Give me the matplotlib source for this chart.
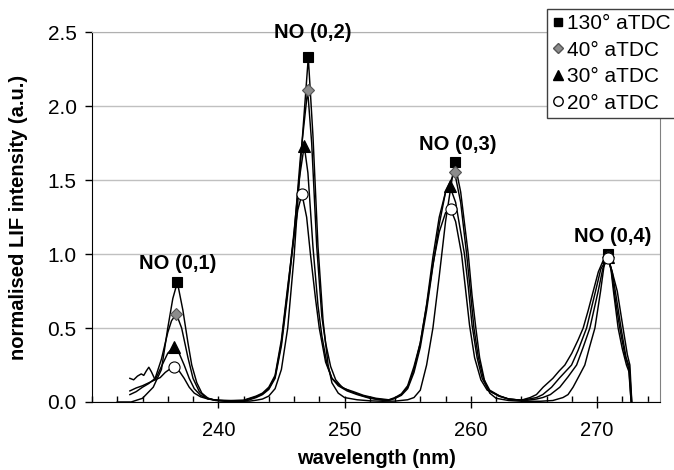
import numpy as np
import matplotlib
matplotlib.use('Agg')
import matplotlib.pyplot as plt
from matplotlib.lines import Line2D
from matplotlib.ticker import MultipleLocator, FixedLocator

plt.rcParams['font.family'] = ['Liberation Sans', 'DejaVu Sans']

# LIF spectra (wavelength nm, normalised intensity)
wl_130 = [232.0, 233.1, 234.0, 234.85, 235.5, 236.0, 236.4, 236.76, 237.2, 237.6, 237.9, 238.3, 238.7, 239.2, 239.8, 240.5,
          241.5, 242.5,
          243.0, 243.5, 244.0, 244.5, 245.0, 245.5, 246.0, 246.5, 247.13, 247.5, 247.9, 248.3, 248.7, 249.0, 249.5, 250.0, 251.0, 252.0, 253.0,
          254.0, 255.0, 255.5, 256.0, 256.5, 257.0, 257.5, 258.0, 258.72, 259.2, 259.8, 260.1, 260.4, 260.7, 261.1, 261.5, 262.0, 263.0, 264.0,
          265.5, 266.5, 267.3, 267.7, 268.1, 268.6, 269.03, 269.4, 269.83, 270.28, 270.55, 270.83, 271.1, 271.3, 271.67, 272.0, 272.33, 272.55, 272.7]
int_130 = [0.0, 0.0, 0.025, 0.10, 0.22, 0.50, 0.70, 0.81, 0.62, 0.40, 0.25, 0.13, 0.06, 0.025, 0.01, 0.005,
           0.004, 0.006,
           0.012, 0.02, 0.04, 0.09, 0.22, 0.50, 0.98, 1.60, 2.331, 1.80, 1.05, 0.55, 0.25, 0.13, 0.06, 0.03, 0.015, 0.008, 0.005,
           0.006, 0.015, 0.03, 0.08, 0.25, 0.50, 0.85, 1.22, 1.623, 1.42, 1.0, 0.72, 0.50, 0.30, 0.14, 0.06, 0.025, 0.01, 0.005,
           0.005, 0.01, 0.03, 0.05, 0.10, 0.18, 0.25, 0.37, 0.50, 0.75, 0.92, 1.002, 0.90, 0.75, 0.50, 0.36, 0.25, 0.20, 0.0]

wl_40 = [233.0, 233.5, 234.0, 234.5, 235.0, 235.5, 236.0, 236.3, 236.68, 237.1, 237.6, 238.0, 238.5, 239.0, 239.6, 240.5,
         241.5, 242.3,
         243.0, 243.5, 244.0, 244.5, 245.0, 245.5, 246.0, 246.5, 247.08, 247.4, 247.8, 248.2, 248.5, 248.9, 249.3, 249.8, 250.5, 251.5, 252.5, 253.5,
         254.0, 254.5, 255.0, 255.5, 256.0, 256.5, 257.0, 257.5, 258.0, 258.72, 259.2, 259.67, 260.0, 260.25, 260.6, 261.0, 261.5, 262.3, 263.0, 264.0,
         264.5, 265.2, 265.7, 266.3, 267.05, 267.7, 268.38, 268.9, 269.43, 270.09, 270.45, 270.85, 271.15, 271.4, 271.8, 272.2, 272.5, 272.7]
int_40 = [0.05, 0.07, 0.10, 0.125, 0.16, 0.29, 0.47, 0.55, 0.596, 0.50, 0.30, 0.16, 0.07, 0.03, 0.015, 0.008,
          0.006, 0.01,
          0.03, 0.05, 0.085, 0.16, 0.38, 0.73, 1.13, 1.65, 2.108, 1.75, 1.05, 0.58, 0.40, 0.24, 0.15, 0.10, 0.07, 0.04, 0.02, 0.012,
          0.025, 0.045, 0.09, 0.20, 0.37, 0.62, 0.92, 1.20, 1.42, 1.553, 1.35, 1.0, 0.72, 0.50, 0.30, 0.16, 0.08, 0.04, 0.02, 0.012,
          0.012, 0.02, 0.03, 0.05, 0.10, 0.17, 0.25, 0.37, 0.50, 0.75, 0.90, 0.98, 0.88, 0.72, 0.50, 0.32, 0.23, 0.0]

wl_30 = [233.0, 233.5, 234.0, 234.5, 235.0, 235.5, 236.0, 236.5, 236.9, 237.3, 237.7, 238.1, 238.6, 239.2, 240.0, 241.0,
         242.0,
         243.0, 243.5, 244.0, 244.5, 245.0, 245.5, 246.0, 246.4, 246.81, 247.1, 247.5, 247.9, 248.2, 248.6, 249.0, 249.5, 250.2, 251.0, 252.0, 253.0,
         253.5, 254.0, 254.5, 255.0, 255.5, 256.0, 256.5, 257.0, 257.5, 258.0, 258.35, 258.8, 259.2, 259.5, 259.8, 260.1, 260.5, 260.9, 261.4, 262.2, 263.0, 264.0,
         264.6, 265.2, 265.7, 266.4, 267.0, 267.98, 268.5, 269.17, 269.88, 270.3, 270.85, 271.2, 271.5, 271.9, 272.3, 272.55, 272.75]
int_30 = [0.075, 0.095, 0.11, 0.13, 0.15, 0.24, 0.33, 0.374, 0.33, 0.25, 0.16, 0.09, 0.045, 0.02, 0.01, 0.008,
          0.01,
          0.035, 0.055, 0.09, 0.17, 0.40, 0.76, 1.15, 1.50, 1.733, 1.55, 1.05, 0.65, 0.45, 0.26, 0.16, 0.11, 0.075, 0.05, 0.025, 0.012,
          0.012, 0.025, 0.05, 0.10, 0.22, 0.40, 0.66, 0.98, 1.25, 1.42, 1.458, 1.35, 1.15, 1.0, 0.78, 0.52, 0.30, 0.16, 0.08, 0.04, 0.02, 0.012,
          0.02, 0.03, 0.05, 0.10, 0.16, 0.25, 0.35, 0.50, 0.75, 0.90, 0.98, 0.88, 0.72, 0.50, 0.30, 0.24, 0.0]

wl_20 = [233.0, 233.3, 233.6, 233.9, 234.1, 234.3, 234.5, 234.7, 235.0, 235.4, 235.8, 236.2, 236.52, 236.9, 237.3, 237.7, 238.1, 238.6, 239.2, 240.0, 241.0,
         242.0,
         243.0, 243.5, 244.0, 244.5, 245.0, 245.5, 246.0, 246.3, 246.63, 247.0, 247.3, 247.7, 248.0, 248.5, 249.0, 249.5, 250.0, 250.7, 251.5, 252.5, 253.5,
         254.0, 254.5, 255.0, 255.5, 256.0, 256.5, 257.0, 257.5, 258.0, 258.4, 258.8, 259.27, 259.6, 259.9, 260.3, 260.8, 261.3, 262.3, 263.0, 264.0,
         264.3, 264.7, 265.2, 265.73, 266.5, 267.0, 267.45, 268.0, 268.5, 268.9, 269.3, 269.7, 270.1, 270.5, 270.88, 271.2, 271.6, 272.06, 272.4, 272.6, 272.75]
int_20 = [0.16, 0.15, 0.175, 0.19, 0.18, 0.21, 0.235, 0.205, 0.15, 0.165, 0.20, 0.225, 0.239, 0.21, 0.16, 0.10, 0.06, 0.035, 0.02, 0.012, 0.01,
          0.012,
          0.04, 0.06, 0.10, 0.18, 0.42, 0.78, 1.12, 1.30, 1.406, 1.25, 1.00, 0.70, 0.50, 0.27, 0.16, 0.12, 0.09, 0.07, 0.045, 0.025, 0.015,
          0.03, 0.055, 0.11, 0.24, 0.40, 0.65, 0.93, 1.15, 1.28, 1.307, 1.22, 1.00, 0.75, 0.52, 0.30, 0.15, 0.08, 0.04, 0.02, 0.012,
          0.02, 0.03, 0.05, 0.10, 0.16, 0.21, 0.25, 0.33, 0.42, 0.50, 0.62, 0.75, 0.88, 0.96, 0.973, 0.88, 0.75, 0.50, 0.32, 0.25, 0.0]

# peak markers
pk_130 = ([236.76, 247.13, 258.72, 270.83], [0.81, 2.331, 1.623, 1.002])
pk_40 = ([236.68, 247.08, 258.72, 270.85], [0.596, 2.108, 1.553, 0.98])
pk_30 = ([236.5, 246.81, 258.35, 270.85], [0.374, 1.733, 1.458, 0.98])
pk_20 = ([236.52, 246.63, 258.4, 270.88], [0.239, 1.406, 1.307, 0.973])

labels = ['130° aTDC', '40° aTDC', '30° aTDC', '20° aTDC']
bands = ['NO (0,1)', 'NO (0,2)', 'NO (0,3)', 'NO (0,4)']
band_x = [236.8, 247.45, 258.95, 271.2]
band_y = [0.94, 2.50, 1.74, 1.12]

fig = plt.figure(figsize=(6.74, 4.70), dpi=100)
ax = fig.add_axes([0.1365, 0.1447, 0.843, 0.7863])

for wl, it in [(wl_20, int_20), (wl_30, int_30), (wl_40, int_40), (wl_130, int_130)]:
    ax.plot(wl, it, color='black', lw=1.05, zorder=2)

styles = [dict(marker='s', mfc='black', mec='black', ms=7.5),
          dict(marker='D', mfc='#8c8c8c', mec='#555555', ms=6),
          dict(marker='^', mfc='black', mec='black', ms=8),
          dict(marker='o', mfc='white', mec='black', ms=8)]
for pk, st in zip([pk_130, pk_40, pk_30, pk_20], styles):
    ax.plot(pk[0], pk[1], ls='none', mew=0.8, zorder=4, **st)

for t, x, y in zip(bands, band_x, band_y):
    ax.text(x, y, t, ha='center', va='center', fontsize=14.5, fontweight='bold', zorder=5)

ax.set_xlim(230, 275)
ax.set_ylim(0, 2.5)
ax.xaxis.set_major_locator(FixedLocator([240, 250, 260, 270]))
ax.xaxis.set_minor_locator(MultipleLocator(2))
ax.yaxis.set_major_locator(MultipleLocator(0.5))
ax.yaxis.set_major_formatter(matplotlib.ticker.FormatStrFormatter('%.1f'))
ax.tick_params(axis='x', which='major', direction='inout', length=8, width=1, labelsize=14.5, pad=9.5)
ax.tick_params(axis='x', which='minor', direction='in', length=4, width=1)
ax.tick_params(axis='y', which='major', direction='out', length=5, width=1, labelsize=15, pad=6)
ax.grid(axis='y', color='#c0c0c0', lw=1)
ax.set_axisbelow(True)
for s in ['left', 'bottom']:
    ax.spines[s].set_color('black')
ax.spines['top'].set_color('#b0b0b0')
ax.spines['right'].set_color('#808080')

ax.set_xlabel('wavelength (nm)', fontsize=14.5, fontweight='bold', labelpad=7)
ax.set_ylabel('normalised LIF intensity (a.u.)', fontsize=14.5, fontweight='bold', labelpad=14)

handles = [Line2D([], [], ls='none', **st) for st in styles]
for h in handles:
    h.set_markersize(h.get_markersize() * 0.85)
leg = fig.legend(handles, labels, loc='upper left', bbox_to_anchor=(547 / 674, 1 - 9 / 470),
                 bbox_transform=fig.transFigure, borderaxespad=0, fontsize=15,
                 handlelength=0.56, handletextpad=0.15, labelspacing=0.36, borderpad=0.25,
                 fancybox=False, framealpha=1, edgecolor='#404040')
leg.get_frame().set_linewidth(1)

fig.savefig('out.png', dpi=100)
